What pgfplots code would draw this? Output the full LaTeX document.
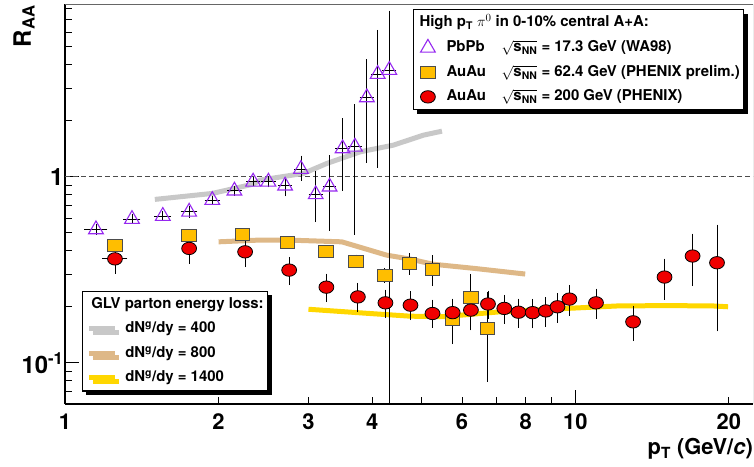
\documentclass[border=0pt]{standalone}
\usepackage{pgfplots}
\pgfplotsset{compat=1.18}
\usepackage{fontspec}
\setmainfont{TeX Gyre Heros}
\usetikzlibrary{shadows}
\definecolor{wapurple}{RGB}{150,40,240}
\definecolor{augold}{RGB}{255,190,0}
\definecolor{aured}{RGB}{240,0,0}
\definecolor{glvgray}{RGB}{200,200,200}
\definecolor{glvtan}{RGB}{222,184,135}
\definecolor{glvyellow}{RGB}{255,215,0}
\tikzset{raashadow/.style={drop shadow={shadow xshift=4bp, shadow yshift=-4bp, fill=black, opacity=1}}}
\pgfplotsset{
  raadatalegend/.style={legend image code/.code={\path (-10bp,0bp) (10bp,0bp); \draw[##1] plot coordinates {(0bp,0bp)};}},
  raalinelegend/.style={legend image code/.code={\draw[##1] (0bp,0bp) -- (26bp,0bp);}},
  raaerr/.style={error bars/.cd, y dir=both, y explicit, x dir=both, x explicit,
    error bar style={black, line width=0.9bp},
    error mark options={black, mark size=2bp, line width=0.9bp}},
}
\begin{document}
\begin{tikzpicture}
\useasboundingbox (-65bp,-63bp) rectangle (689bp,404bp);
% ---------- axis with frame, ticks and theory curves ----------
\begin{axis}[
  xmode=log, ymode=log,
  xmin=1, xmax=22.3, ymin=0.06, ymax=8.5,
  width=688bp, height=400bp, scale only axis,
  legend cell align=left,
  legend style={
      draw=black, line width=1.2bp, fill=white,
      font=\fontsize{15}{18}\selectfont\bfseries,
      inner xsep=4bp, inner ysep=5bp,
      row sep=8.5bp,
      nodes={inner xsep=0bp, inner ysep=0bp, text height=12bp, text depth=4bp},
      /tikz/every odd column/.append style={column sep=8bp},
      raashadow,
      at={(axis description cs:0.0243,0.283)}, anchor=north west},
  axis x line*=bottom, axis y line*=left,
  axis line style={line width=1.2bp, black},
  tick align=inside,
  tick style={black, line width=0.9bp},
  major tick length=14bp, minor tick length=7bp,
  xtick={1,10}, xticklabels={1,10},
  extra x ticks={2,3,4,6,8,20},
  extra x tick labels={2,3,4,6,8,20},
  extra x tick style={major tick length=7bp},
  minor xtick={2,3,4,5,6,7,8,9,20},
  ytick={0.1,1}, yticklabels={10\textsuperscript{-1},1},
  minor ytick={0.07,0.08,0.09,0.2,0.3,0.4,0.5,0.6,0.7,0.8,0.9,2,3,4,5,6,7,8},
  /pgf/number format/assume math mode=true,
  xticklabel style={font=\fontsize{22}{24}\selectfont\bfseries, yshift=-6bp},
  yticklabel style={font=\fontsize{24}{26}\selectfont\bfseries, xshift=2bp},
  xlabel={p\textsubscript{T} (GeV/\textit{c})},
  xlabel style={at={(axis description cs:1,-0.085)}, anchor=north east, inner sep=0pt,
    font=\fontsize{22}{24}\selectfont\bfseries},
  ylabel={R\textsubscript{AA}},
  ylabel style={at={(axis description cs:-0.0596,0.9975)}, anchor=east, inner sep=0pt,
    font=\fontsize{24}{26}\selectfont\bfseries},
]
\draw[black!60, line width=0.8bp] (rel axis cs:0,1) -- (rel axis cs:1,1) -- (rel axis cs:1,0);
\addplot[forget plot, black!70, line width=0.8bp, dash pattern=on 5bp off 3bp] coordinates {(1,1) (22.3,1)};
\addlegendimage{empty legend}
\addlegendentry{\hspace{-34bp}GLV parton energy loss:}
\addplot[glvgray, line width=5bp, line join=round, raalinelegend] coordinates {
(1.50,0.756) (1.944,0.814) (2.337,0.913) (2.412,0.96) (2.933,1.043) (3.26,1.18) (3.79,1.363) (4.40,1.48) (5.04,1.675) (5.48,1.76)};
\addlegendentry{dN\textsuperscript{g}/dy = 400}
\addplot[glvtan, line width=5bp, line join=round, raalinelegend] coordinates {
(2.0,0.447) (2.412,0.457) (2.728,0.457) (3.487,0.447) (4.27,0.379) (4.75,0.361) (5.25,0.339) (6.32,0.322) (7.98,0.30)};
\addlegendentry{dN\textsuperscript{g}/dy = 800}
\addplot[glvyellow, line width=5bp, line join=round, raalinelegend] coordinates {
(3.0,0.194) (3.96,0.184) (4.75,0.178) (5.52,0.177) (7.13,0.188) (9.63,0.196) (12.07,0.202) (15.13,0.203) (18.67,0.202) (19.93,0.20)};
\addlegendentry{dN\textsuperscript{g}/dy = 1400}
\end{axis}
% ---------- axis with data points ----------
\begin{axis}[
  xmode=log, ymode=log,
  xmin=1, xmax=22.3, ymin=0.06, ymax=8.5,
  width=688bp, height=400bp, scale only axis,
  hide axis,
  legend cell align=left,
  legend style={
      draw=black, line width=1.2bp, fill=white,
      font=\fontsize{15}{18}\selectfont\bfseries,
      inner xsep=4bp, inner ysep=5bp,
      row sep=8.5bp,
      nodes={inner xsep=0bp, inner ysep=0bp, text height=12bp, text depth=4bp},
      /tikz/every odd column/.append style={column sep=8bp},
      raashadow,
      at={(axis description cs:0.5054,0.9868)}, anchor=north west},
]
\addlegendimage{empty legend}
\addlegendentry{\hspace{-27bp}High p\textsubscript{T} $\pi^0$ in 0-10\% central A+A:}
\addplot[only marks, raadatalegend, mark=triangle, mark size=8.5bp, draw=wapurple,
  mark options={draw=wapurple, line width=1.1bp, fill=none}, raaerr] coordinates {
(1.15,0.521) += (0.05,0.02) -= (0.05,0.02)
(1.353,0.592) += (0.04,0.02) -= (0.04,0.02)
(1.555,0.615) += (0.045,0.02) -= (0.045,0.02)
(1.751,0.648) += (0.05,0.03) -= (0.05,0.03)
(1.944,0.749) += (0.05,0.02) -= (0.05,0.02)
(2.148,0.841) += (0.05,0.03) -= (0.05,0.03)
(2.337,0.94) += (0.05,0.03) -= (0.05,0.03)
(2.504,0.94) += (0.06,0.04) -= (0.06,0.04)
(2.70,0.895) += (0.06,0.06) -= (0.06,0.09)
(2.90,1.10) += (0.06,0.17) -= (0.06,0.125)
(3.10,0.804) += (0.07,0.24) -= (0.07,0.22)
(3.30,0.884) += (0.07,0.39) -= (0.07,0.36)
(3.50,1.42) += (0.08,0.60) -= (0.08,0.56)
(3.70,1.45) += (0.08,0.95) -= (0.08,0.95)
(3.905,2.67) += (0.09,1.51) -= (0.09,1.45)
(4.10,3.57) += (0.09,2.45) -= (0.09,2.42)
(4.32,3.75) += (0.1,3.9) -= (0.1,3.745)
};
\addlegendentry{\makebox[55bp][l]{PbPb}$\sqrt{\mbox{s\textsubscript{NN}}}$ = 17.3 GeV (WA98)}
\addplot[only marks, raadatalegend, mark=square*, mark size=6bp,
  mark options={fill=augold, draw=black!70, line width=0.9bp, xscale=1.2}, raaerr] coordinates {
(1.253,0.429) += (0,0.02) -= (0,0.02)
(1.751,0.486) += (0,0.02) -= (0,0.02)
(2.23,0.49) += (0,0.02) -= (0,0.02)
(2.729,0.444) += (0,0.02) -= (0,0.02)
(3.245,0.399) += (0,0.02) -= (0,0.02)
(3.72,0.352) += (0,0.02) -= (0,0.02)
(4.236,0.296) += (0,0.02) -= (0,0.02)
(4.73,0.342) += (0,0.036) -= (0,0.038)
(5.25,0.318) += (0,0.051) -= (0,0.053)
(5.75,0.171) += (0,0.04) -= (0,0.042)
(6.245,0.224) += (0,0.069) -= (0,0.071)
(6.72,0.153) += (0,0.08) -= (0,0.072)
};
\addlegendentry{\makebox[55bp][l]{AuAu}$\sqrt{\mbox{s\textsubscript{NN}}}$ = 62.4 GeV (PHENIX prelim.)}
\addplot[only marks, raadatalegend, mark=*, mark size=6.2bp,
  mark options={fill=aured, draw=black, line width=0.8bp, xscale=1.2}, raaerr] coordinates {
(1.253,0.362) += (0.06,0.046) -= (0.06,0.053)
(1.751,0.412) += (0,0.064) -= (0,0.063)
(2.254,0.395) += (0,0.052) -= (0,0.06)
(2.75,0.315) += (0,0.047) -= (0,0.047)
(3.253,0.255) += (0,0.039) -= (0,0.038)
(3.75,0.226) += (0,0.036) -= (0,0.034)
(4.246,0.210) += (0,0.031) -= (0,0.032)
(4.754,0.204) += (0,0.032) -= (0,0.030)
(5.25,0.184) += (0,0.029) -= (0,0.026)
(5.75,0.186) += (0,0.030) -= (0,0.028)
(6.245,0.192) += (0,0.031) -= (0,0.032)
(6.745,0.207) += (0,0.031) -= (0,0.030)
(7.26,0.196) += (0,0.030) -= (0,0.030)
(7.74,0.187) += (0,0.029) -= (0,0.029)
(8.25,0.186) += (0,0.029) -= (0,0.029)
(8.76,0.190) += (0,0.030) -= (0,0.030)
(9.23,0.200) += (0,0.031) -= (0,0.032)
(9.74,0.220) += (0,0.036) -= (0,0.037)
(10.98,0.210) += (0,0.034) -= (0,0.033)
(12.98,0.166) += (0,0.032) -= (0,0.032)
(14.96,0.289) += (0,0.065) -= (0,0.065)
(16.98,0.375) += (0,0.107) -= (0,0.11)
(18.96,0.345) += (0,0.194) -= (0,0.194)
};
\addlegendentry{\makebox[55bp][l]{AuAu}$\sqrt{\mbox{s\textsubscript{NN}}}$ = 200 GeV (PHENIX)}
\end{axis}
\end{tikzpicture}
\end{document}
